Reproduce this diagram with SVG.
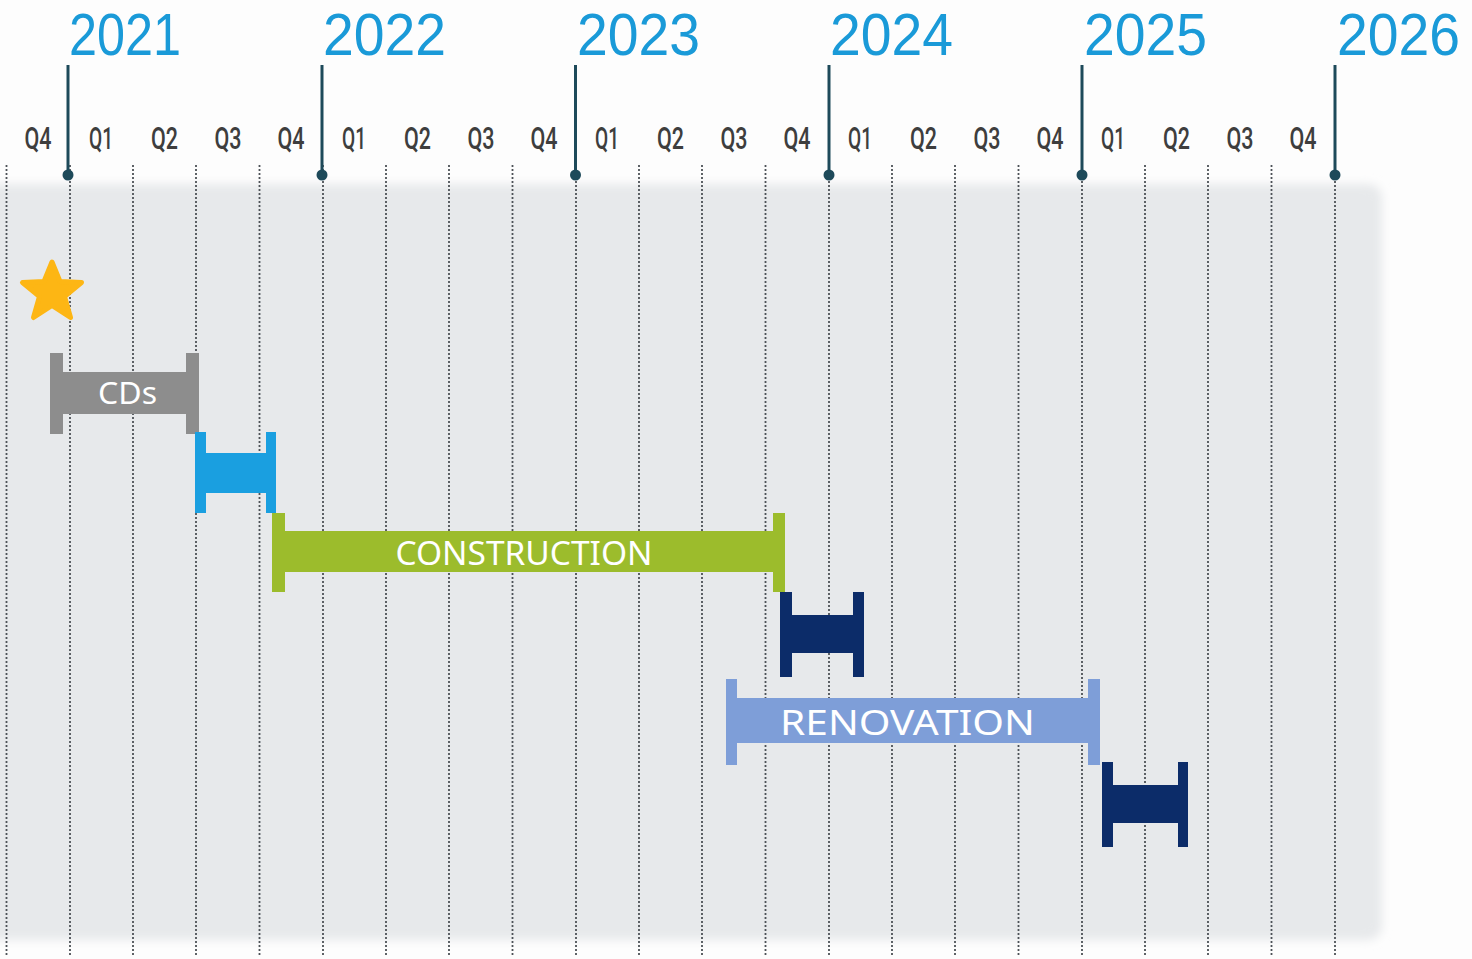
<svg xmlns="http://www.w3.org/2000/svg" width="1472" height="959" viewBox="0 0 1472 959">
<style>
.year{font-family:"Liberation Sans",Lato,sans-serif;font-weight:400;font-size:59px;fill:#1a9ad8}
.q{font-family:Roboto,"Liberation Sans",sans-serif;font-weight:500;font-size:32px;fill:#3e3e3e;text-anchor:middle}
.lbl{font-family:"Noto Sans","Liberation Sans",sans-serif;fill:#ffffff;text-anchor:middle;dominant-baseline:central}
.dash{stroke:#4d5257;stroke-width:1.8;stroke-dasharray:2 2}
.yl{stroke:#1e4a5a;stroke-width:3}
.dot{fill:#1e4a5a}
</style>
<defs>
<filter id="soft" x="-5%" y="-5%" width="110%" height="110%"><feGaussianBlur stdDeviation="5"/></filter>
</defs>
<rect width="1472" height="959" fill="#fdfdfd"/>
<rect x="-20" y="184" width="1402" height="756" rx="14" fill="#e7e9eb" filter="url(#soft)"/>
<g id="grid">
<line class="dash" x1="6.5" y1="165" x2="6.5" y2="955"/>
<line class="dash" x1="70" y1="165" x2="70" y2="955"/>
<line class="dash" x1="133" y1="165" x2="133" y2="955"/>
<line class="dash" x1="196" y1="165" x2="196" y2="955"/>
<line class="dash" x1="259.5" y1="165" x2="259.5" y2="955"/>
<line class="dash" x1="323" y1="165" x2="323" y2="955"/>
<line class="dash" x1="386" y1="165" x2="386" y2="955"/>
<line class="dash" x1="449" y1="165" x2="449" y2="955"/>
<line class="dash" x1="512.5" y1="165" x2="512.5" y2="955"/>
<line class="dash" x1="576" y1="165" x2="576" y2="955"/>
<line class="dash" x1="639" y1="165" x2="639" y2="955"/>
<line class="dash" x1="702" y1="165" x2="702" y2="955"/>
<line class="dash" x1="765.5" y1="165" x2="765.5" y2="955"/>
<line class="dash" x1="829" y1="165" x2="829" y2="955"/>
<line class="dash" x1="892" y1="165" x2="892" y2="955"/>
<line class="dash" x1="955" y1="165" x2="955" y2="955"/>
<line class="dash" x1="1018.5" y1="165" x2="1018.5" y2="955"/>
<line class="dash" x1="1082" y1="165" x2="1082" y2="955"/>
<line class="dash" x1="1145" y1="165" x2="1145" y2="955"/>
<line class="dash" x1="1208" y1="165" x2="1208" y2="955"/>
<line class="dash" x1="1271.5" y1="165" x2="1271.5" y2="955"/>
<line class="dash" x1="1335" y1="165" x2="1335" y2="955"/>
</g>
<g id="years">
<text class="year" x="69" y="55" textLength="112" lengthAdjust="spacingAndGlyphs">2021</text>
<text class="year" x="323" y="55" textLength="123" lengthAdjust="spacingAndGlyphs">2022</text>
<text class="year" x="577" y="55" textLength="123" lengthAdjust="spacingAndGlyphs">2023</text>
<text class="year" x="830" y="55" textLength="123" lengthAdjust="spacingAndGlyphs">2024</text>
<text class="year" x="1084" y="55" textLength="123" lengthAdjust="spacingAndGlyphs">2025</text>
<text class="year" x="1337" y="55" textLength="123" lengthAdjust="spacingAndGlyphs">2026</text>
<line class="yl" x1="68" y1="65" x2="68" y2="175"/><circle class="dot" cx="68" cy="175" r="5.5"/>
<line class="yl" x1="322" y1="65" x2="322" y2="175"/><circle class="dot" cx="322" cy="175" r="5.5"/>
<line class="yl" x1="575.5" y1="65" x2="575.5" y2="175"/><circle class="dot" cx="575.5" cy="175" r="5.5"/>
<line class="yl" x1="829" y1="65" x2="829" y2="175"/><circle class="dot" cx="829" cy="175" r="5.5"/>
<line class="yl" x1="1082" y1="65" x2="1082" y2="175"/><circle class="dot" cx="1082" cy="175" r="5.5"/>
<line class="yl" x1="1335" y1="65" x2="1335" y2="175"/><circle class="dot" cx="1335" cy="175" r="5.5"/>
</g>
<g id="quarters">
<text class="q" x="38" y="149" textLength="27" lengthAdjust="spacingAndGlyphs">Q4</text>
<text class="q" x="101" y="149" textLength="24" lengthAdjust="spacingAndGlyphs">Q1</text>
<text class="q" x="164.5" y="149" textLength="27" lengthAdjust="spacingAndGlyphs">Q2</text>
<text class="q" x="228" y="149" textLength="27" lengthAdjust="spacingAndGlyphs">Q3</text>
<text class="q" x="291" y="149" textLength="27" lengthAdjust="spacingAndGlyphs">Q4</text>
<text class="q" x="354" y="149" textLength="24" lengthAdjust="spacingAndGlyphs">Q1</text>
<text class="q" x="417.5" y="149" textLength="27" lengthAdjust="spacingAndGlyphs">Q2</text>
<text class="q" x="481" y="149" textLength="27" lengthAdjust="spacingAndGlyphs">Q3</text>
<text class="q" x="544" y="149" textLength="27" lengthAdjust="spacingAndGlyphs">Q4</text>
<text class="q" x="607" y="149" textLength="24" lengthAdjust="spacingAndGlyphs">Q1</text>
<text class="q" x="670.5" y="149" textLength="27" lengthAdjust="spacingAndGlyphs">Q2</text>
<text class="q" x="734" y="149" textLength="27" lengthAdjust="spacingAndGlyphs">Q3</text>
<text class="q" x="797" y="149" textLength="27" lengthAdjust="spacingAndGlyphs">Q4</text>
<text class="q" x="860" y="149" textLength="24" lengthAdjust="spacingAndGlyphs">Q1</text>
<text class="q" x="923.5" y="149" textLength="27" lengthAdjust="spacingAndGlyphs">Q2</text>
<text class="q" x="987" y="149" textLength="27" lengthAdjust="spacingAndGlyphs">Q3</text>
<text class="q" x="1050" y="149" textLength="27" lengthAdjust="spacingAndGlyphs">Q4</text>
<text class="q" x="1113" y="149" textLength="24" lengthAdjust="spacingAndGlyphs">Q1</text>
<text class="q" x="1176.5" y="149" textLength="27" lengthAdjust="spacingAndGlyphs">Q2</text>
<text class="q" x="1240" y="149" textLength="27" lengthAdjust="spacingAndGlyphs">Q3</text>
<text class="q" x="1303" y="149" textLength="27" lengthAdjust="spacingAndGlyphs">Q4</text>
</g>
<g id="star">
<polygon fill="#fdb614" stroke="#fdb614" stroke-width="5" stroke-linejoin="round" points="52,262 60,281.5 81.5,282.5 64.5,296.5 70.5,317.5 52,305.5 33.5,317.5 39.5,296.5 22.5,282.5 44,281.5"/>
</g>
<g id="cds" fill="#8d8d8d">
<rect x="50" y="353" width="13" height="81"/>
<rect x="186" y="353" width="13" height="81"/>
<rect x="50" y="372" width="149" height="42"/>
<text class="lbl" x="127.5" y="392" font-size="30" textLength="59" lengthAdjust="spacingAndGlyphs">CDs</text>
</g>
<g id="phase-blue" fill="#1a9fe0">
<rect x="195" y="432" width="11" height="81"/>
<rect x="266" y="432" width="10" height="81"/>
<rect x="195" y="453" width="81" height="40"/>
</g>
<g id="construction" fill="#9cbc2c">
<rect x="272" y="513" width="13" height="79"/>
<rect x="773" y="513" width="12" height="79"/>
<rect x="272" y="531" width="513" height="41"/>
<text class="lbl" x="524" y="552" font-size="32" textLength="257" lengthAdjust="spacingAndGlyphs">CONSTRUCTION</text>
</g>
<g id="phase-navy-1" fill="#0c2c69">
<rect x="780" y="592" width="12" height="85"/>
<rect x="853" y="592" width="11" height="85"/>
<rect x="780" y="615" width="84" height="38"/>
</g>
<g id="renovation" fill="#7e9ed8">
<rect x="726" y="679" width="11" height="86"/>
<rect x="1088" y="679" width="12" height="86"/>
<rect x="726" y="698" width="374" height="45"/>
<text class="lbl" x="907.5" y="721" font-size="35" textLength="255" lengthAdjust="spacingAndGlyphs">RENOVATION</text>
</g>
<g id="phase-navy-2" fill="#0c2c69">
<rect x="1102" y="762" width="11" height="85"/>
<rect x="1178" y="762" width="10" height="85"/>
<rect x="1102" y="785" width="86" height="38"/>
</g>
</svg>
